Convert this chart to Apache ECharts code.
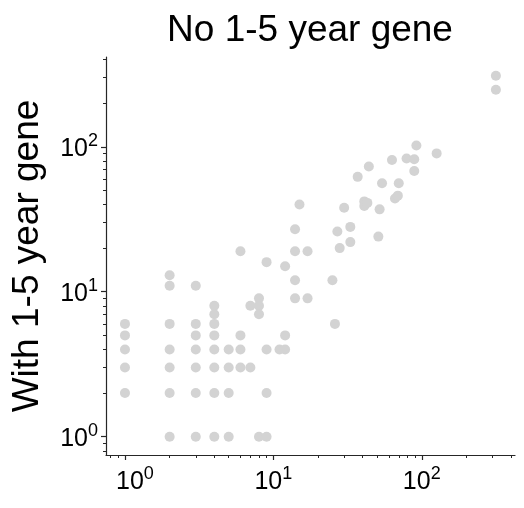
<!DOCTYPE html>
<html>
<head>
<meta charset="utf-8">
<script src="https://cdn.jsdelivr.net/npm/echarts@6/dist/echarts.min.js"></script>
<style>
html,body{margin:0;padding:0;background:#fff;}
#chart{width:524px;height:508px;}
</style>
</head>
<body>
<div id="chart"></div>
<script>
// x = count without the 1-5 year gene, y = count with the 1-5 year gene
const xValues = [1,1,1,1,1, 2,2,2,2,2,2,2, 3,3,3,3,3,3,3, 4,4,4,4,4,4,4,4, 5,5,5,5, 6,6,6,6, 7,7, 8,8,8,8, 9,9,9,9, 11, 12,12,12, 14,14,14,14, 15, 17,17, 25, 26, 27, 28, 30, 33,33, 37, 41,41, 43, 44, 51, 52, 54, 63, 66, 69, 70, 79, 89,89, 92, 126, 316,316];
const yValues = [6,5,4,3,2, 13,11,6,4,3,2,1, 11,6,5,4,3,2,1, 8,7,6,5,4,3,2,1, 4,3,2,1, 19,5,4,3, 8,3, 9,8,7,1, 16,4,2,1, 4, 15,5,4, 27,19,12,9, 40, 19,9, 12, 6, 26, 20, 38, 28,22, 62, 42,39, 41, 73, 24, 37, 56, 81, 44, 46, 56, 83, 82,68, 102, 90, 309,247];
const majorTicks = [1, 10, 100];
const tickExponents = ['0', '1', '2'];
const minorTicks = [0.8,0.9, 2,3,4,5,6,7,8,9, 20,30,40,50,60,70,80,90, 200,300,400];
const titleText = 'No 1-5 year gene';
const yTitle = 'With 1-5 year gene';

const FONT = 'Liberation Sans, Arial, sans-serif';
const axisColor = '#262626';
const xMin = 0.745, xMax = 425, yMin = 0.748, yMax = 416;

const points = xValues.map((x, i) => [x, yValues[i]]);

const labelRich = {
  b: {fontSize: 25, fontFamily: FONT, color: '#000', lineHeight: 30, verticalAlign: 'bottom'},
  b0: {fontSize: 25, fontFamily: FONT, color: '#000', lineHeight: 30, verticalAlign: 'bottom', padding: [0,0,0,20]},
  s: {fontSize: 18, fontFamily: FONT, color: '#000', lineHeight: 30, verticalAlign: 'top', padding: [0,0,8,0]}
};
const makeFmt = isX => v => {
  const idx = majorTicks.findIndex(t => Math.abs(t - v) < 1e-9);
  if (idx < 0) return '';
  const base = (isX && idx === 0) ? 'b0' : 'b';
  return '{' + base + '|10}{s|' + tickExponents[idx] + '}';
};

function makeAxes(min, max, isX) {
  const common = {type: 'log', logBase: 10, min: min, max: max, splitLine: {show: false}};
  return [
    Object.assign({}, common, {
      position: isX ? 'bottom' : 'left',
      axisLine: {show: true, lineStyle: {color: axisColor, width: 1.2}},
      axisTick: {show: true, inside: false, length: 5, lineStyle: {color: axisColor, width: 1.2}, customValues: majorTicks},
      axisLabel: {show: true, margin: isX ? 10 : 8, formatter: makeFmt(isX), rich: labelRich, customValues: majorTicks},
      name: isX ? '' : yTitle,
      nameLocation: 'middle',
      nameGap: 60,
      nameTextStyle: {fontSize: 37, fontFamily: FONT, color: '#000'}
    }),
    Object.assign({}, common, {
      position: isX ? 'bottom' : 'left',
      axisLine: {show: false},
      axisTick: {show: true, inside: false, length: 3, lineStyle: {color: axisColor, width: 1}, customValues: minorTicks},
      axisLabel: {show: false}
    })
  ];
}

const chart = echarts.init(document.getElementById('chart'), null, {renderer: 'canvas'});
chart.setOption({
  animation: false,
  backgroundColor: '#fff',
  title: {
    text: titleText, left: 305, top: 7, textAlign: 'center',
    textStyle: {fontSize: 37, fontWeight: 'normal', fontFamily: FONT, color: '#000'}
  },
  grid: {left: 106, right: 9, top: 57, bottom: 53, containLabel: false},
  xAxis: makeAxes(xMin, xMax, true),
  yAxis: makeAxes(yMin, yMax, false),
  series: [{
    type: 'scatter',
    xAxisIndex: 0, yAxisIndex: 0,
    data: points,
    symbolSize: 10,
    itemStyle: {color: '#d3d3d3', opacity: 1}
  }]
});
</script>
</body>
</html>
